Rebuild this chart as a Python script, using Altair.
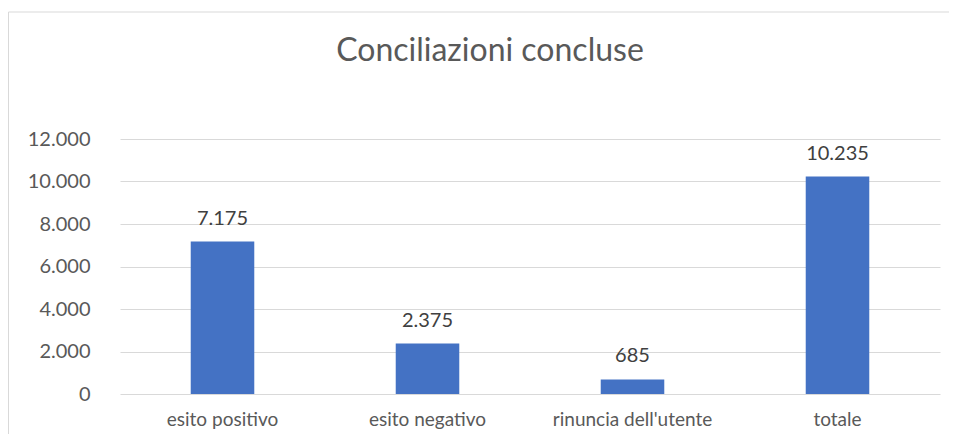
import altair as alt
import pandas as pd

categories = ["esito positivo", "esito negativo", "rinuncia dell'utente", "totale"]
values = [7175, 2375, 685, 10235]
labels = ["7.175", "2.375", "685", "10.235"]
tick_values = [0, 2000, 4000, 6000, 8000, 10000, 12000]

df = pd.DataFrame({"cat": categories, "val": values, "lab": labels})

FONT = "Lato"
GRAY = "#595959"

x = alt.X("cat:N", sort=categories, title=None,
          scale=alt.Scale(paddingInner=0.69, paddingOuter=0.345),
          axis=alt.Axis(labelAngle=0, domain=False, ticks=False, labelPadding=16,
                        labelFont=FONT, labelFontSize=19, labelColor=GRAY))
y = alt.Y("val:Q", title=None,
          scale=alt.Scale(domain=[0, 12000], nice=False),
          axis=alt.Axis(values=tick_values, domain=False, ticks=False, labelPadding=30,
                        labelExpr="replace(format(datum.value, ','), ',', '.')",
                        labelFont=FONT, labelFontSize=20, labelColor=GRAY,
                        gridColor="#d9d9d9", gridWidth=1))

border = alt.Chart(pd.DataFrame({"k": [0]})).mark_rect(
    fill=None, stroke="#d9d9d9", strokeWidth=1
).encode(x=alt.value(-111.5), x2=alt.value(845), y=alt.value(-127), y2=alt.value(320))

bars = alt.Chart(df).mark_bar(color="#4472C4").encode(x=x, y=y)
text = alt.Chart(df).mark_text(dy=-17, baseline="alphabetic", font=FONT, fontSize=20,
                               color="#404040").encode(
    x=alt.X("cat:N", sort=categories), y="val:Q", text="lab:N")

chart = alt.layer(border, bars, text).properties(
    width=820, height=255,
    autosize=alt.AutoSizeParams(type="none"),
    padding={"left": 112, "top": 131, "right": 9, "bottom": 40},
    title=alt.TitleParams("Conciliazioni concluse", font=FONT, fontSize=32,
                          fontWeight="normal", color=GRAY, offset=-56,
                          anchor="middle", dx=-40)
).configure_view(stroke=None)

chart.save("out.html", embed_options={"renderer": "svg", "actions": False})
